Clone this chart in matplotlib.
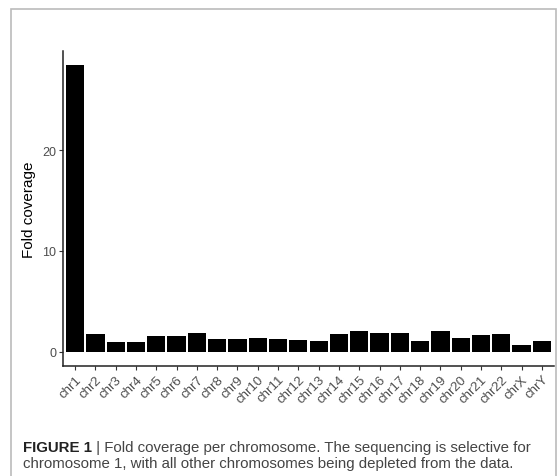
import matplotlib.pyplot as plt
from matplotlib.patches import Rectangle

plt.rcParams['font.family'] = ['Liberation Sans', 'DejaVu Sans']

# fold coverage
chroms = ["chr1", "chr2", "chr3", "chr4", "chr5", "chr6", "chr7", "chr8",
          "chr9", "chr10", "chr11", "chr12", "chr13", "chr14", "chr15", "chr16",
          "chr17", "chr18", "chr19", "chr20", "chr21", "chr22", "chrX", "chrY"]
coverage = [28.4, 1.75, 0.93, 0.93, 1.55, 1.58, 1.85, 1.26,
            1.26, 1.39, 1.23, 1.16, 1.09, 1.75, 2.05, 1.85,
            1.82, 1.02, 2.08, 1.36, 1.62, 1.79, 0.69, 1.06]
yticks = [0, 10, 20]

caption_bold = "FIGURE 1"
caption_line1 = " | Fold coverage per chromosome. The sequencing is selective for"
caption_line2 = "chromosome 1, with all other chromosomes being depleted from the data."

fig = plt.figure(figsize=(5.58, 4.77), dpi=100)
W, H = 558, 477
# axes box in pixels: x 63..554, y 52..367 (top-down)
ax = fig.add_axes([63 / W, 1 - 367 / H, (554 - 63) / W, (367 - 52) / H])

x = range(len(chroms))
ax.bar(x, coverage, width=0.9, color="black", edgecolor="none")

ymax = max(coverage)
ax.set_xlim(-0.6, len(chroms) - 0.4)
ax.set_ylim(-0.05 * ymax, 1.05 * ymax)
ax.set_xticks(list(x))
ax.set_xticklabels(chroms, rotation=45, ha="right", va="top",
                   rotation_mode="anchor", fontsize=9.5, color="#4d4d4d")
ax.set_yticks(yticks)
ax.set_yticklabels([str(v) for v in yticks], fontsize=9, color="#4d4d4d")
ax.tick_params(length=3, width=0.8, color="#333333", pad=2)
ax.set_ylabel("Fold coverage", fontsize=11, labelpad=4)

for side in ["top", "right"]:
    ax.spines[side].set_visible(False)
for side in ["left", "bottom"]:
    ax.spines[side].set_linewidth(1.1)
    ax.spines[side].set_color("#222222")

# light grey frame round the figure
fig.patches.append(Rectangle((11 / W, -0.1), (556 - 11) / W, 1.1 - 10 / H,
                             transform=fig.transFigure, fill=False,
                             edgecolor="#bbbbbb", linewidth=1.2))

cap_size = 10.8
t1 = fig.text(23 / W, 1 - 452 / H, caption_bold, fontsize=cap_size,
              fontweight="bold", color="#222222", va="baseline")
ax.annotate(caption_line1, xy=(1, 0), xycoords=t1, fontsize=cap_size,
            color="#444444", va="bottom", ha="left", annotation_clip=False)
fig.text(23 / W, 1 - 468 / H, caption_line2, fontsize=cap_size,
         color="#444444", va="baseline")

fig.savefig("out.png", dpi=100)
